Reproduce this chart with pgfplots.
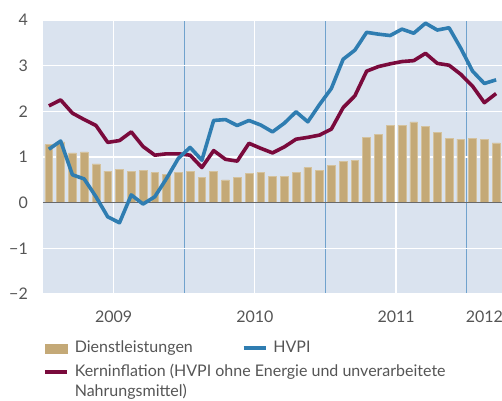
\documentclass[border=0pt]{standalone}
\usepackage{pgfplots}
\pgfplotsset{compat=1.18}
\usepackage{fontspec}
\setmainfont{Lato}

\definecolor{bgBlue}{RGB}{218,227,239}
\definecolor{barTan}{RGB}{196,169,119}
\definecolor{barEdge}{RGB}{212,194,158}
\definecolor{hvpiBlue}{RGB}{47,125,177}
\definecolor{kernRed}{RGB}{122,10,60}
\definecolor{yearBlue}{RGB}{112,162,205}
\definecolor{zeroGray}{RGB}{105,105,105}
\definecolor{txtGray}{RGB}{85,85,85}

\begin{document}
\fontsize{16bp}{19.5bp}\selectfont
\begin{tikzpicture}
\begin{axis}[
    name=ax,
    scale only axis,
    width=459bp, height=274bp,
    xmin=-0.5, xmax=38.5,
    ymin=-2, ymax=4,
    axis background/.style={fill=bgBlue},
    axis line style={draw=none},
    xtick={5.5,17.5,29.5},
    xticklabels={2009,2010,2011},
    extra x ticks={37},
    extra x tick labels={2012},
    extra x tick style={grid=none},
    minor xtick={11.5,23.5,35.5},
    ytick={-2,-1,0,1,2,3,4},
    yticklabels={−2,−1,0,1,2,3,4},
    xmajorgrids, ymajorgrids, xminorgrids,
    major grid style={white, line width=1.3bp},
    minor grid style={yearBlue, line width=1.4bp},
    major tick length=0pt, minor tick length=0pt,
    tick label style={text=txtGray, font=\fontsize{16bp}{19.5bp}\selectfont, inner sep=0pt},
    yticklabel style={anchor=east, xshift=-15bp},
    xticklabel style={anchor=north, yshift=-17bp},
    legend columns=2,
    legend cell align=left,
    legend style={
        at={(0,0)}, anchor=north west,
        xshift=0bp, yshift=-44bp,
        draw=none, fill=none,
        inner sep=0pt,
        font=\fontsize{16bp}{19.5bp}\selectfont,
        text=txtGray,
        row sep=3bp,
        nodes={inner sep=3bp},
        /tikz/every odd column/.append style={column sep=3bp},
        /tikz/every even column/.append style={column sep=46bp},
    },
]

% Dienstleistungen (bars, monthly, Jan 2009 - Mar 2012)
\addplot[ybar, bar width=0.66, fill=barTan, draw=barEdge, line width=0.6bp, forget plot]
coordinates {
(0,1.27) (1,1.33) (2,1.09) (3,1.11) (4,0.85) (5,0.69) (6,0.72) (7,0.69)
(8,0.71) (9,0.66) (10,0.62) (11,0.66) (12,0.69) (13,0.55) (14,0.69) (15,0.50)
(16,0.55) (17,0.64) (18,0.66) (19,0.58) (20,0.58) (21,0.67) (22,0.77) (23,0.71)
(24,0.82) (25,0.91) (26,0.93) (27,1.43) (28,1.50) (29,1.69) (30,1.70) (31,1.77)
(32,1.67) (33,1.54) (34,1.41) (35,1.39) (36,1.41) (37,1.39) (38,1.31)
};

% zero line
\addplot[zeroGray, line width=1.6bp, forget plot] coordinates {(-0.5,0) (38.5,0)};

% Kerninflation
\addplot[kernRed, line width=3.6bp, line join=round, forget plot]
coordinates {
(0,2.12) (1,2.25) (2,1.96) (3,1.82) (4,1.69) (5,1.32) (6,1.36) (7,1.55)
(8,1.23) (9,1.04) (10,1.07) (11,1.07) (12,1.04) (13,0.77) (14,1.14) (15,0.95)
(16,0.91) (17,1.30) (18,1.19) (19,1.09) (20,1.22) (21,1.39) (22,1.43) (23,1.48)
(24,1.61) (25,2.08) (26,2.34) (27,2.88) (28,2.98) (29,3.04) (30,3.09) (31,3.11)
(32,3.27) (33,3.05) (34,3.01) (35,2.81) (36,2.55) (37,2.19) (38,2.39)
};

% HVPI
\addplot[hvpiBlue, line width=3.6bp, line join=round, forget plot]
coordinates {
(0,1.17) (1,1.35) (2,0.61) (3,0.52) (4,0.13) (5,-0.31) (6,-0.44) (7,0.17)
(8,-0.03) (9,0.13) (10,0.53) (11,0.97) (12,1.21) (13,0.93) (14,1.80) (15,1.82)
(16,1.69) (17,1.80) (18,1.70) (19,1.55) (20,1.74) (21,1.99) (22,1.77) (23,2.15)
(24,2.50) (25,3.14) (26,3.34) (27,3.73) (28,3.69) (29,3.66) (30,3.80) (31,3.71)
(32,3.93) (33,3.78) (34,3.83) (35,3.38) (36,2.88) (37,2.61) (38,2.69)
};

\addlegendimage{legend image code/.code={\fill[barTan] (0bp,-4.5bp) rectangle (22bp,4.5bp);}}
\addlegendentry{Dienstleistungen}
\addlegendimage{legend image code/.code={\draw[hvpiBlue, line width=3.6bp] (0bp,0bp) -- (22bp,0bp);}}
\addlegendentry{HVPI}
\addlegendimage{legend image code/.code={\draw[kernRed, line width=3.6bp] (0bp,0bp) -- (22bp,0bp);}}
\addlegendentry{\makebox[0pt][l]{\parbox[t]{430bp}{\raggedright Kerninflation (HVPI ohne Energie und unverarbeitete\\Nahrungsmittel)}}}

\end{axis}
\pgfresetboundingbox
\path ([shift={(-43bp,-107bp)}]ax.south west) rectangle ([shift={(0bp,20bp)}]ax.north east);
\end{tikzpicture}
\end{document}
